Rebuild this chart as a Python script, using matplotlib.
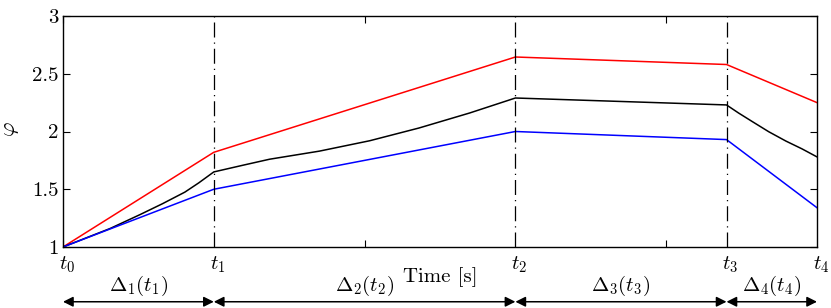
import matplotlib
matplotlib.use("Agg")
import matplotlib.pyplot as plt
from matplotlib.transforms import offset_copy

plt.rcParams['font.family'] = 'serif'
plt.rcParams['font.serif'] = ['cmr10']
plt.rcParams['mathtext.fontset'] = 'cm'
plt.rcParams['axes.formatter.use_mathtext'] = True

# switching instants (x in the original axis units)
t_pos = [0, 0.5, 1.5, 2.2, 2.5]
t_labels = ['$t_0$', '$t_1$', '$t_2$', '$t_3$', '$t_4$']
delta_labels = [r'$\Delta_1(t_1)$', r'$\Delta_2(t_2)$', r'$\Delta_3(t_3)$', r'$\Delta_4(t_4)$']

# upper / lower bounds (piecewise linear)
red = [1.0, 1.82, 2.645, 2.58, 2.25]
blue = [1.0, 1.50, 2.0, 1.93, 1.34]

# nominal curve, read at a few points
black_x = [0, 0.156, 0.255, 0.33, 0.404, 0.45, 0.5, 0.6, 0.685, 0.85, 1.017, 1.18, 1.348,
           1.5, 2.2, 2.24, 2.286, 2.34, 2.397, 2.45, 2.5]
black_y = [1.0, 1.16, 1.28, 1.375, 1.475, 1.555, 1.65, 1.71, 1.76, 1.83, 1.92, 2.03, 2.16,
           2.29, 2.23, 2.16, 2.085, 1.998, 1.917, 1.85, 1.78]

yticks = [1, 1.5, 2, 2.5, 3]
ytick_labels = ['1', '1.5', '2', '2.5', '3']

fig = plt.figure(figsize=(8.31, 3.08), dpi=100)
ax = fig.add_axes([63/831, 61/308, 754/831, 231/308])

ax.plot(t_pos, red, color='red', lw=1.1)
ax.plot(black_x, black_y, color='black', lw=1.1)
ax.plot(t_pos, blue, color='blue', lw=1.1)

for t in t_pos[1:4]:
    ax.axvline(t, color='black', lw=0.9, linestyle=(0, (12, 4, 1, 4)))

ax.set_xlim(0, 2.5)
ax.set_ylim(1, 3)
ax.set_xticks([0, 1, 2])
ax.set_xticklabels([])
ax.set_yticks(yticks)
ax.set_yticklabels(ytick_labels, fontsize=15)
ax.tick_params(direction='in', top=True, right=True, length=5, width=0.8, pad=3)
for s in ax.spines.values():
    s.set_linewidth(1.0)

ax.set_ylabel(r'$\varphi$', fontsize=16)
ax.yaxis.set_label_coords(-0.056, 0.51)
ax.text(0.5, -0.13, 'Time [s]', transform=ax.transAxes, ha='center', va='center', fontsize=15)

tr = ax.get_xaxis_transform()
tr_shift = offset_copy(tr, fig=fig, x=4, y=0, units='dots')
for t, lab in zip(t_pos, t_labels):
    ax.text(t, -0.078, lab, transform=tr_shift, ha='center', va='center', fontsize=15)

for i, lab in enumerate(delta_labels):
    a, b = t_pos[i], t_pos[i + 1]
    ax.annotate('', xy=(b, -0.237), xytext=(a, -0.237), xycoords=tr, textcoords=tr,
                arrowprops=dict(arrowstyle='<|-|>', color='black', lw=1.1,
                                mutation_scale=15, shrinkA=0, shrinkB=0),
                annotation_clip=False)
    ax.text((a + b) / 2, -0.17, lab, transform=tr, ha='center', va='center', fontsize=15)

fig.savefig('out.png', dpi=100)
